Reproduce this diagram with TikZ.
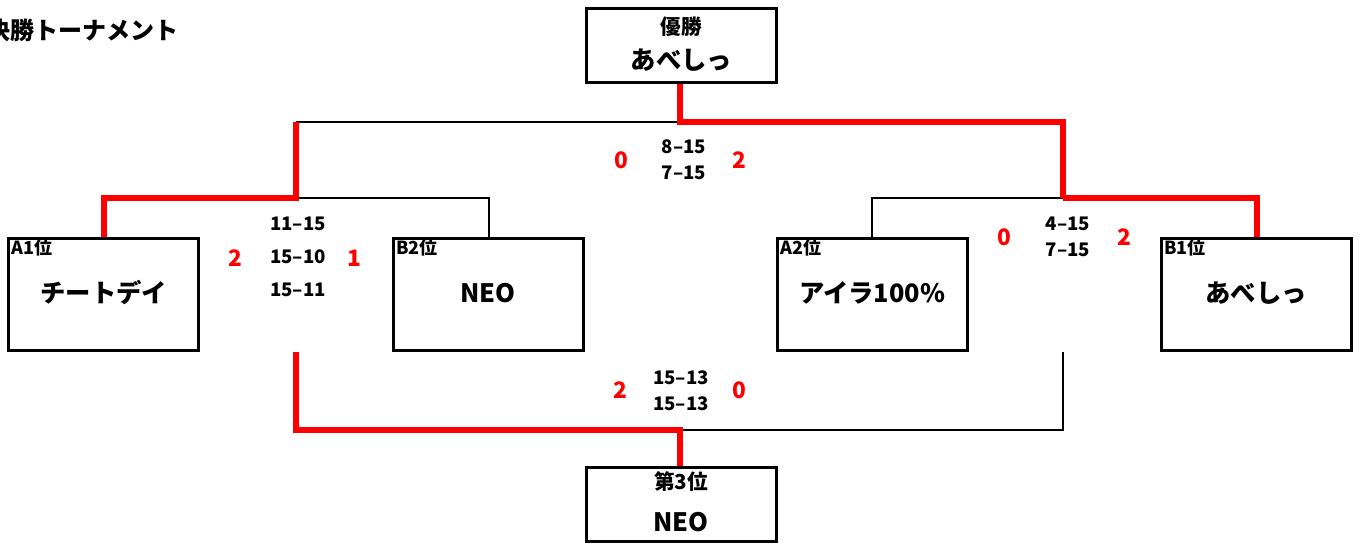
\documentclass[tikz,border=0pt]{standalone}
\usepackage{fontspec}
\setmainfont{Noto Sans CJK JP}

\tikzset{
  team/.style={draw, line width=2.25pt, minimum width=142.5pt, minimum height=84pt, inner sep=0pt},
  rankbox/.style={draw, line width=2.25pt, minimum width=142.5pt, minimum height=56pt, inner sep=0pt},
  seed/.style={font=\bfseries\fontsize{13.5}{13.5}\selectfont, anchor=west, inner sep=0pt},
  rank/.style={font=\bfseries\fontsize{15.5}{15.5}\selectfont, inner sep=0pt},
  player/.style={font=\bfseries\fontsize{19}{19}\selectfont, inner sep=0pt},
  score/.style={font=\bfseries\fontsize{14}{19.5}\selectfont, align=center, inner sep=0pt},
  sets/.style={font=\bfseries\fontsize{17}{17}\selectfont, text=red, inner sep=0pt},
  lose/.style={line width=1.5pt, black},
  win/.style={line width=4.5pt, red, line join=miter}
}

\begin{document}
\begin{tikzpicture}[x=0.75pt, y=-0.75pt]
  \useasboundingbox (0,0) rectangle (1363,545);

  % title (cut at the left edge)
  \node[font=\bfseries\fontsize{18}{18}\selectfont, anchor=east, inner sep=0pt] (title) at (179,30) {決勝トーナメント};

  % boxes
  \node[rankbox] (champ) at (681.5,45.5) {};
  \node[team] (a1) at (103.5,294.5) {};
  \node[team] (b2) at (488.5,294.5) {};
  \node[team] (a2) at (872,294.5) {};
  \node[team] (b1) at (1256.5,294.5) {};
  \node[rankbox] (third) at (681.5,504.5) {};

  % box texts
  \node[rank] (champlbl) at (681.5,27) {優勝};
  \node[player] (champname) at (681.5,60) {あべしっ};
  \node[seed] (a1lbl) at (11,248) {A1位};
  \node[seed] (b2lbl) at (396,248) {B2位};
  \node[seed] (a2lbl) at (780,248) {A2位};
  \node[seed] (b1lbl) at (1164,248) {B1位};
  \node[player] (a1name) at (104,293) {チートデイ};
  \node[player] (b2name) at (488,293) {NEO};
  \node[player] (a2name) at (872,293) {アイラ100\%};
  \node[player] (b1name) at (1256,293) {あべしっ};
  \node[rank] (thirdlbl) at (681,482) {第3位};
  \node[player] (thirdname) at (681,522) {NEO};

  % junctions
  \coordinate (semiL) at (296,198);
  \coordinate (semiR) at (1063,198);
  \coordinate (finL) at (296,122);
  \coordinate (finR) at (1063,122);
  \coordinate (finM) at (680,122);
  \coordinate (bronzeL) at (296,352);
  \coordinate (bronzeR) at (1063,352);
  \coordinate (bronzeM) at (680,430);

  % losing lines
  \draw[lose] (semiL) -| (b2.north);
  \draw[lose] (semiR) -| (a2.north);
  \draw[lose] (finL) -- (finM);
  \draw[lose] (bronzeM) -| (bronzeR);

  % winning lines
  \draw[win] (finL) -- (semiL) -| (a1.north);
  \draw[win] (semiR) -| (b1.north);
  \draw[win] (champ.south -| finM) -- (finM) -- (finR) -- (semiR);
  \draw[win] (bronzeL) |- (bronzeM) -- (third.north -| bronzeM);

  % semifinal left
  \node[score, font=\bfseries\fontsize{14}{25}\selectfont] (scoreL) at (298,257) {11--15\\15--10\\15--11};
  \node[sets] (setA1) at (235,258) {2};
  \node[sets] (setB2) at (354,258) {1};

  % semifinal right
  \node[score] (scoreR) at (1068,237) {4--15\\7--15};
  \node[sets] (setA2) at (1004,237) {0};
  \node[sets] (setB1) at (1124,237) {2};

  % final
  \node[score] (scoreF) at (684,160) {8--15\\7--15};
  \node[sets] (setFL) at (621,160) {0};
  \node[sets] (setFR) at (739,160) {2};

  % third place
  \node[score] (scoreT) at (681,391) {15--13\\15--13};
  \node[sets] (setTL) at (620,390) {2};
  \node[sets] (setTR) at (739,390) {0};
\end{tikzpicture}
\end{document}
